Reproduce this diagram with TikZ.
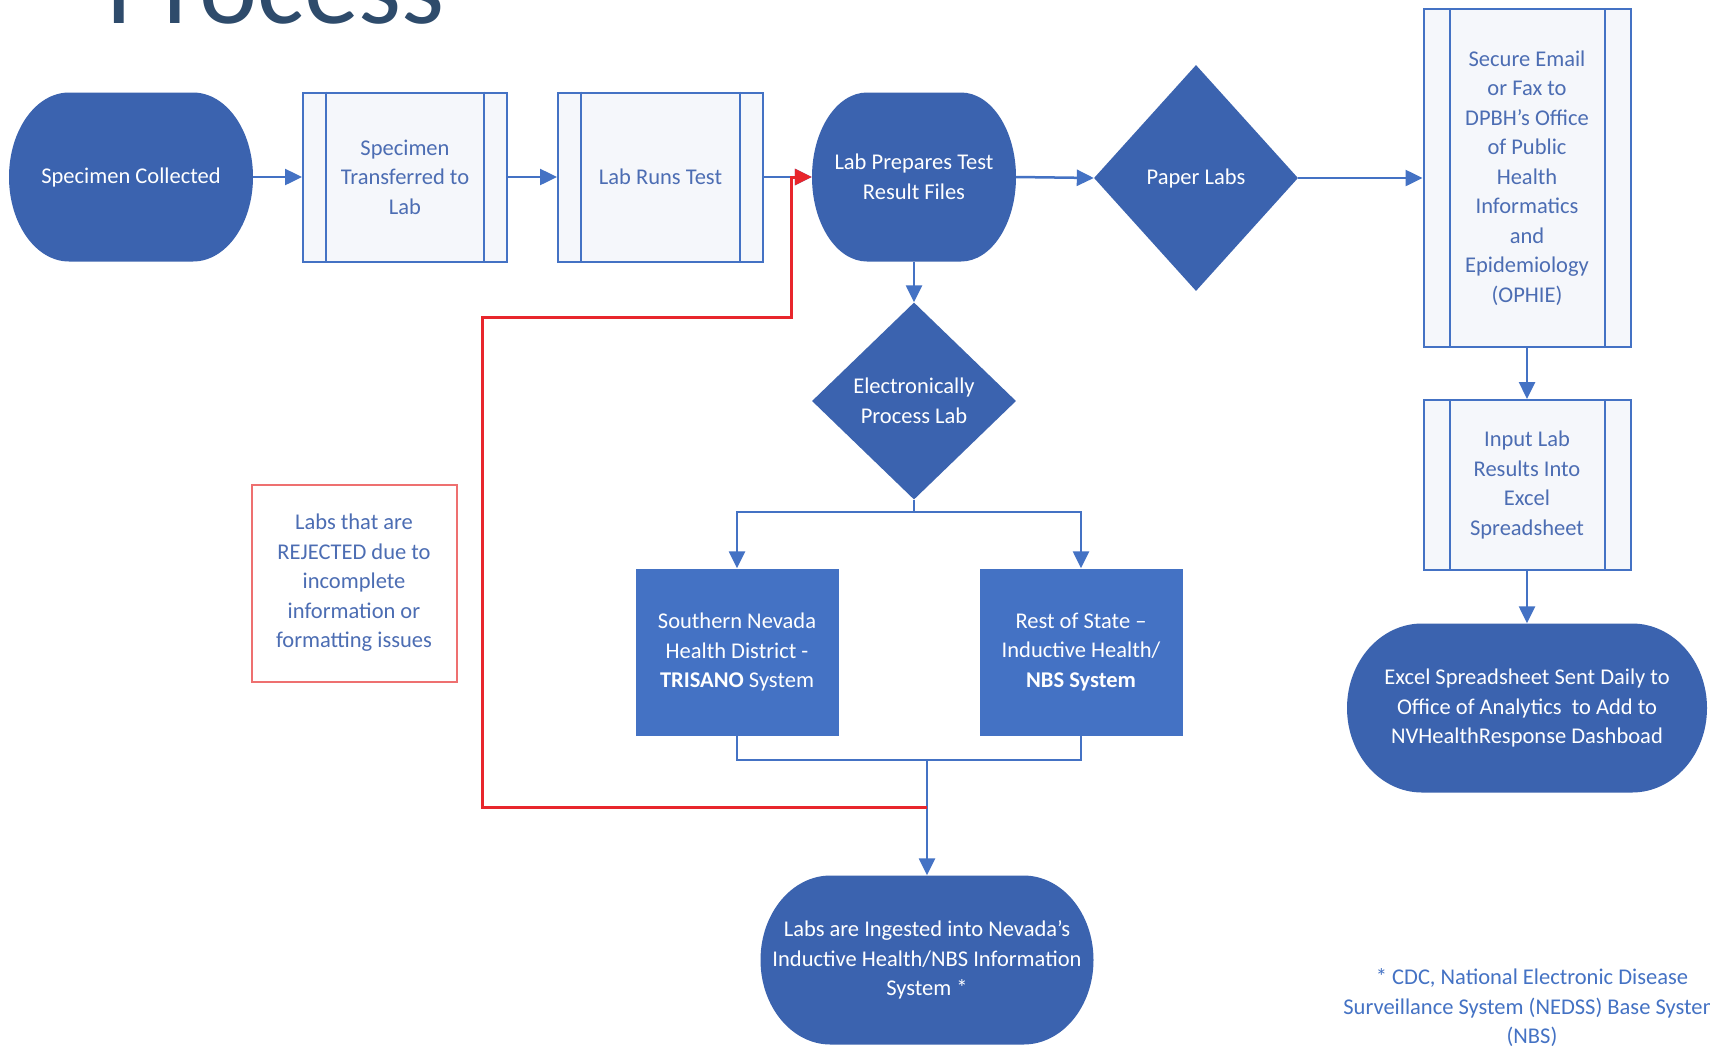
\documentclass[tikz,border=0pt]{standalone}
\usepackage{fontspec}
\setmainfont{Carlito}
\usetikzlibrary{arrows.meta,shapes.geometric}
\definecolor{dblue}{HTML}{3B63AF}
\definecolor{mblue}{HTML}{4472C4}
\definecolor{lineblue}{HTML}{4472C4}
\definecolor{subtext}{HTML}{4C6DB3}
\definecolor{subfill}{HTML}{F5F7FB}
\definecolor{titlecol}{HTML}{2E4B6B}
\definecolor{redline}{HTML}{E8262C}
\definecolor{redbox}{HTML}{EE7070}
\newcommand\fs{\fontsize{22.5}{29.5}\selectfont}
\tikzset{
 txt/.style={font=\fs, align=center, inner sep=0pt},
 termtext/.style={txt, text=white},
 subbox/.style={txt, draw=lineblue, line width=2pt, fill=subfill, text=subtext},
 subline/.style={draw=lineblue, line width=2pt},
 decision/.style={txt, diamond, fill=dblue, text=white},
 procbox/.style={txt, fill=mblue, text=white},
 conn/.style={draw=lineblue, line width=2.5pt},
 arrow/.style={conn, -{Triangle[length=17pt,width=16pt]}},
 redarrow/.style={draw=redline, line width=3pt, -{Triangle[length=17pt,width=16pt]}},
 rejbox/.style={txt, draw=redbox, line width=2pt, text=subtext},
 termfill/.style={fill=dblue},
}
% name, cx, cy, w, h, rx, text
\newcommand\terminal[7]{%
 \fill[termfill] ({#2-#4/2+#6},{#3-#5/2}) -- ({#2+#4/2-#6},{#3-#5/2})
   arc[start angle=-90,end angle=90,x radius=#6,y radius=#5/2]
   -- ({#2-#4/2+#6},{#3+#5/2})
   arc[start angle=90,end angle=270,x radius=#6,y radius=#5/2] -- cycle;
 \node[termtext, minimum width=#4pt, minimum height=#5pt] (#1) at (#2,#3) {#7};}
% name, cx, cy, w, h, band, text
\newcommand\subproc[7]{%
 \node[subbox, minimum width=#4pt, minimum height=#5pt] (#1) at (#2,#3) {#7};
 \draw[subline] ([xshift=#6pt]#1.north west) -- ([xshift=#6pt]#1.south west);
 \draw[subline] ([xshift=-#6pt]#1.north east) -- ([xshift=-#6pt]#1.south east);}
\begin{document}
\begin{tikzpicture}[x=1pt,y=-1pt]
\useasboundingbox (0,0) rectangle (1710,1053);
\fill[white] (0,0) rectangle (1710,1053);

\node[anchor=base west, font=\fontsize{110}{120}\selectfont, text=titlecol, inner sep=0pt] (title) at (106,23) {Process};

\terminal{spec}{131}{177}{244}{169}{60}{Specimen Collected}
\subproc{trans}{405}{177}{204}{169}{24}{Specimen\\Transferred to\\Lab}
\subproc{runs}{660.5}{177}{205}{169}{24}{Lab Runs Test}
\terminal{prep}{914}{177}{204}{169}{55}{Lab Prepares Test\\Result Files}
\node[decision, minimum width=204pt, minimum height=226pt] (paper) at (1196,178) {Paper Labs};
\subproc{email}{1527}{178}{207}{338}{27}{Secure Email\\or Fax to\\DPBH’s Office\\of Public\\Health\\Informatics\\and\\Epidemiology\\(OPHIE)}
\subproc{input}{1527}{485}{207}{170}{27}{Input Lab\\Results Into\\Excel\\Spreadsheet}
\terminal{excel}{1527}{708}{360}{169}{75}{Excel Spreadsheet Sent Daily to\\Office of Analytics\ \ to Add to\\NVHealthResponse Dashboad}
\node[decision, minimum width=204pt, minimum height=197pt] (elec) at (914,401) {Electronically\\Process Lab};
\node[procbox, minimum width=203pt, minimum height=167pt] (snhd) at (737,652) {Southern Nevada\\Health District -\\\textbf{TRISANO} System};
\node[procbox, minimum width=203pt, minimum height=167pt] (rest) at (1081,652) {Rest of State –\\Inductive Health/\\\textbf{NBS System}};
\terminal{ingest}{927}{960}{333}{169}{70}{Labs are Ingested into Nevada’s\\Inductive Health/NBS Information\\System *}
\node[rejbox, minimum width=205pt, minimum height=197pt] (rej) at (354,583) {Labs that are\\REJECTED due to\\incomplete\\information or\\formatting issues};
\node[txt, text=mblue] (foot) at (1532,1008) {* CDC, National Electronic Disease\\Surveillance System (NEDSS) Base System\\(NBS)};

\draw[arrow] (spec.east) -- (trans.west);
\draw[arrow] (trans.east) -- (runs.west);
\draw[arrow] (runs.east) -- (prep.west);
\draw[arrow] (prep.east) -- (paper.west);
\draw[arrow] (paper.east) -- (email.west);
\draw[arrow] (prep.south) -- (elec.north);
\draw[arrow] (email.south) -- (input.north);
\draw[arrow] (input.south) -- (excel.north);

\coordinate (split) at (914,512);
\draw[conn] (elec.south) -- (split);
\draw[arrow] (split) -| (snhd.north);
\draw[arrow] (split) -| (rest.north);

\coordinate (merge) at (927,760);
\draw[conn] (snhd.south) |- (merge);
\draw[conn] (rest.south) |- (merge);
\draw[arrow] (merge) -- (ingest.north);

\coordinate (rj) at (927,807);
\draw[redarrow] (rj) -- (482,807) -- (482,317) -- (791,317) -- (791,177) -- (prep.west);
\end{tikzpicture}
\end{document}
